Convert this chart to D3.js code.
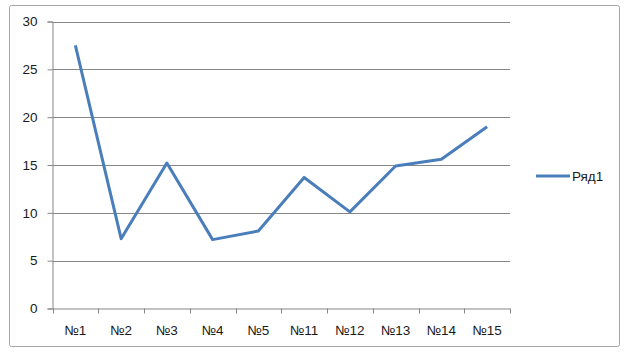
<!DOCTYPE html>
<html>
<head>
<meta charset="utf-8">
<script src="https://cdn.jsdelivr.net/npm/d3@7"></script>
<style>
  html, body { margin: 0; padding: 0; background: #fff; }
  svg text { font-family: "Liberation Sans", "DejaVu Sans", sans-serif; fill: #1a1a1a; }
</style>
</head>
<body>
<svg id="chart" width="627" height="354"></svg>
<script>
// Series data
const categories = ["№1", "№2", "№3", "№4", "№5", "№11", "№12", "№13", "№14", "№15"];
const values = [27.5, 7.3, 15.2, 7.2, 8.1, 13.7, 10.1, 14.9, 15.6, 19.0];
const seriesName = "Ряд1";
const yTicks = [0, 5, 10, 15, 20, 25, 30];

const svg = d3.select("#chart");
const plot = { left: 52.5, right: 510, top: 21.5, bottom: 308.5 };
const fontSize = "13.5px";

// Outer chart frame
svg.append("rect")
  .attr("x", 9.5).attr("y", 5.5)
  .attr("width", 610).attr("height", 341)
  .attr("rx", 2)
  .attr("fill", "#fff")
  .attr("stroke", "#a6a6a6")
  .attr("stroke-width", 1);

const x = d3.scaleBand().domain(categories).range([plot.left, plot.right]);
const y = d3.scaleLinear().domain([0, 30]).range([plot.bottom, plot.top]);

// Horizontal gridlines
svg.append("g")
  .selectAll("line")
  .data(yTicks.filter(t => t > 0))
  .join("line")
  .attr("x1", plot.left).attr("x2", plot.right)
  .attr("y1", d => Math.round(y(d)) + 0.5).attr("y2", d => Math.round(y(d)) + 0.5)
  .attr("stroke", "#868686").attr("stroke-width", 1);

// Y axis
const yAxis = svg.append("g")
  .attr("transform", `translate(${plot.left},0)`)
  .call(d3.axisLeft(y).tickValues(yTicks).tickSize(5).tickPadding(10).tickFormat(d3.format("d")));
yAxis.select(".domain").attr("stroke", "#868686");
yAxis.selectAll(".tick line").attr("stroke", "#868686");
yAxis.selectAll("text").style("font-size", fontSize);

// X axis with ticks at category boundaries
const xAxis = svg.append("g")
  .attr("transform", `translate(0,${plot.bottom})`)
  .call(d3.axisBottom(x).tickSize(0).tickPadding(17));
xAxis.select(".domain").attr("stroke", "#868686");
xAxis.selectAll("text").style("font-size", fontSize);
svg.append("g")
  .selectAll("line")
  .data(d3.range(categories.length + 1))
  .join("line")
  .attr("x1", i => Math.round(plot.left + i * x.step()) + 0.5)
  .attr("x2", i => Math.round(plot.left + i * x.step()) + 0.5)
  .attr("y1", plot.bottom).attr("y2", plot.bottom + 5)
  .attr("stroke", "#868686");

// Series line
const line = d3.line()
  .x((d, i) => x(categories[i]) + x.bandwidth() / 2)
  .y(d => y(d));
svg.append("path")
  .datum(values)
  .attr("d", line)
  .attr("fill", "none")
  .attr("stroke", "#4a7ebb")
  .attr("stroke-width", 3)
  .attr("stroke-linejoin", "round");

// Legend
const legend = svg.append("g").attr("transform", "translate(536,176)");
legend.append("line")
  .attr("x1", 0).attr("x2", 34).attr("y1", 0).attr("y2", 0)
  .attr("stroke", "#4a7ebb").attr("stroke-width", 3);
legend.append("text")
  .attr("x", 36).attr("y", 5)
  .style("font-size", fontSize)
  .text(seriesName);
</script>
</body>
</html>
